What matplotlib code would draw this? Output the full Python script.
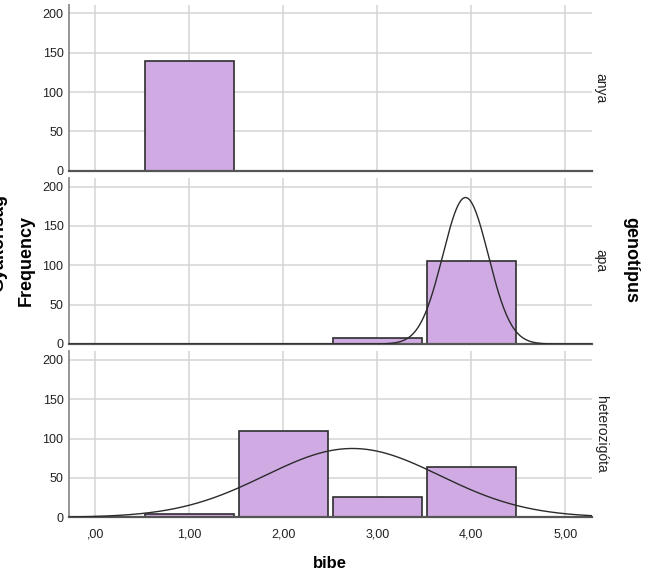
import numpy as np
import matplotlib
matplotlib.use("Agg")
import matplotlib.pyplot as plt

# ---- data ----
panels = ["anya", "apa", "heterozigóta"]
bin_centers = [1, 2, 3, 4]
counts_anya = [140, 0, 0, 0]
counts_apa = [0, 0, 7, 106]
counts_het = [4, 110, 26, 64]
all_counts = [counts_anya, counts_apa, counts_het]
show_curve = [False, True, True]
x_ticks = [0, 1, 2, 3, 4, 5]
x_tick_labels = [",00", "1,00", "2,00", "3,00", "4,00", "5,00"]
y_ticks = [0, 50, 100, 150, 200]

plt.rcParams['font.family'] = ['Liberation Sans', 'DejaVu Sans']

W, H = 646, 578
fig = plt.figure(figsize=(W / 100, H / 100), dpi=100)

fill = "#D0AAE2"
edge = "#2E2E2E"
grid_c = "#D4D4D4"

left_px, right_px = 69, 591.7
bottoms_px = [170.7, 344.0, 517.3]   # y of zero line (from top)
height_px = 166.0
xlim = (-0.28, 5.28)
ylim = (0, 211)

for i, (name, cnt) in enumerate(zip(panels, all_counts)):
    b = bottoms_px[i]
    ax = fig.add_axes([left_px / W, (H - b) / H, (right_px - left_px) / W, height_px / H])
    ax.set_xlim(*xlim)
    ax.set_ylim(*ylim)
    ax.set_axisbelow(True)
    ax.grid(True, color=grid_c, lw=1.1)
    ax.set_xticks(x_ticks)
    ax.set_yticks(y_ticks)
    ax.tick_params(length=0, labelsize=9, colors="#222222", pad=4)
    if i < 2:
        ax.set_xticklabels([])
    else:
        ax.set_xticklabels(x_tick_labels)
        ax.tick_params(axis='x', pad=8)
    for s in ["top", "right"]:
        ax.spines[s].set_visible(False)
    ax.spines["left"].set_color("#8C8C8C")
    ax.spines["left"].set_linewidth(1.3)
    ax.spines["bottom"].set_color("#555555")
    ax.spines["bottom"].set_linewidth(1.6)

    ax.bar(bin_centers, cnt, width=0.95, color=fill, edgecolor=edge, linewidth=1.2, zorder=2)

    if show_curve[i]:
        vals = np.repeat(bin_centers, cnt)
        n = len(vals)
        m = vals.mean()
        sd = vals.std(ddof=1)
        xs = np.linspace(xlim[0], xlim[1], 600)
        ys = n * 1.0 / (sd * np.sqrt(2 * np.pi)) * np.exp(-0.5 * ((xs - m) / sd) ** 2)
        ax.plot(xs, ys, color="#2b2b2b", lw=1.0, zorder=3)

    ax.text(1.004, 0.5, name, transform=ax.transAxes, rotation=270,
            ha="left", va="center", fontsize=10, color="#222222")

fig.text(26 / W, 1 - 260 / H, "Frequency", rotation=90, ha="center", va="center",
         fontsize=13, fontweight="bold")
fig.text(7 / W, 1 - 243 / H, "Gyakoriság", rotation=90, ha="right", va="center",
         fontsize=13, fontweight="bold")
fig.text(631 / W, 1 - 260 / H, "genotípus", rotation=270, ha="center", va="center",
         fontsize=13, fontweight="bold")
fig.text(330 / W, 1 - 563 / H, "bibe", ha="center", va="center",
         fontsize=12, fontweight="bold")

fig.savefig("out.png", dpi=100, facecolor="white")
